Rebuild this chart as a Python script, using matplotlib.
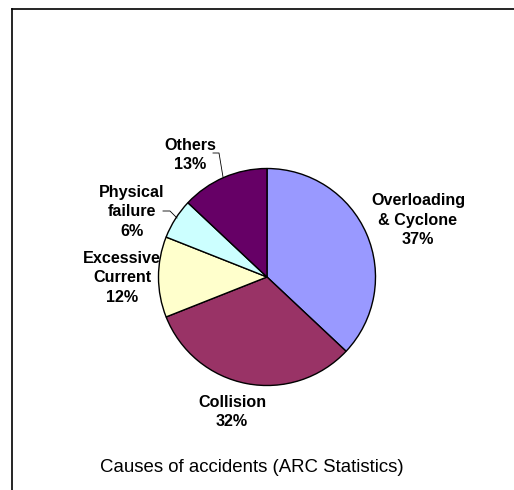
import matplotlib.pyplot as plt
from matplotlib.lines import Line2D

plt.rcParams['font.family'] = ['Liberation Sans', 'DejaVu Sans']

categories = ['Overloading\n& Cyclone', 'Collision', 'Excessive\nCurrent', 'Physical\nfailure', 'Others']
shares = [37, 32, 12, 6, 13]
colors = ['#9999FF', '#993366', '#FFFFCC', '#CCFFFF', '#660066']

# label anchors in pixel space (x from left, y from top)
label_pos = [(418, 220), (232, 412), (122, 278), (132, 212), (190, 155)]

W, H = 514, 490
fig = plt.figure(figsize=(W / 100, H / 100), dpi=100)
ax = fig.add_axes([0, 0, 1, 1])

cx, cy, r = 267, 277, 108.5
ax.pie(shares, colors=colors, startangle=90, counterclock=False,
       center=(cx, H - cy), radius=r,
       wedgeprops=dict(edgecolor='black', linewidth=1.0))
ax.set_xlim(0, W)
ax.set_ylim(0, H)
ax.set_aspect('equal')
ax.axis('off')

for name, val, (x, y) in zip(categories, shares, label_pos):
    ax.text(x, H - y, f'{name}\n{val}%', ha='center', va='center',
            fontsize=11.6, fontweight='bold', linespacing=1.36)

# leader lines for the two small slices
ax.plot([213, 219, 223], [H - 153, H - 153, H - 177], color='black', lw=0.6)
ax.plot([163, 170, 177], [H - 211, H - 211, H - 218], color='black', lw=0.6)

ax.text(252, H - 468, 'Causes of accidents (ARC Statistics)', ha='center', va='center',
        fontsize=13.4)

# chart area frame (runs off the right and bottom edges)
fig.add_artist(Line2D([11.5 / W, 1], [1 - 9.5 / H, 1 - 9.5 / H], color='black', lw=1.2))
fig.add_artist(Line2D([11.5 / W, 11.5 / W], [0, 1 - 9.5 / H], color='black', lw=1.2))

fig.savefig('out.png', dpi=100)
